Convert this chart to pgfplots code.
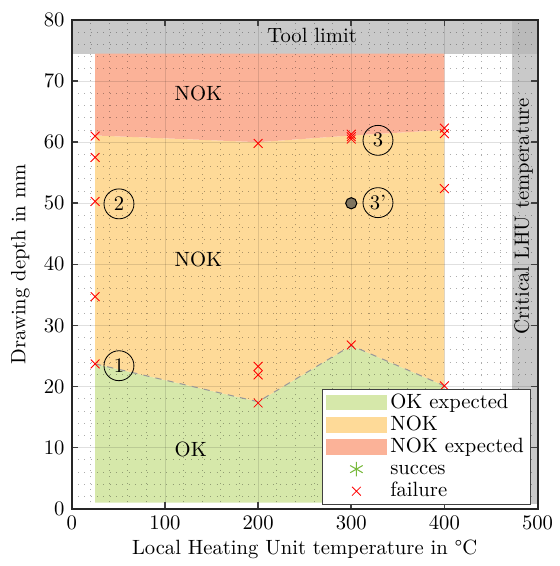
\documentclass[border=0pt]{standalone}
\usepackage{fontspec}
\usepackage{pgfplots}
\pgfplotsset{compat=1.18}
\definecolor{okgreen}{RGB}{214,232,170}
\definecolor{nokorange}{RGB}{254,218,152}
\definecolor{nokred}{RGB}{251,178,152}
\definecolor{bandgray}{RGB}{201,201,201}
\definecolor{overlapgray}{RGB}{186,186,186}
\definecolor{dotbrown}{RGB}{125,115,95}
\definecolor{succgreen}{RGB}{120,185,60}
\pgfplotsset{
  widearea/.style={legend image code/.code={\fill[##1] (0cm,-0.13cm) rectangle (1.05cm,0.13cm);}},
  widemark/.style={legend image code/.code={\draw[mark repeat=2, mark phase=2, ##1] plot coordinates {(0cm,0cm) (0.525cm,0cm) (1.05cm,0cm)};}},
}
\begin{document}
\begin{tikzpicture}
\begin{axis}[
  set layers,
  scale only axis, width=225.6pt, height=236.7pt,
  xmin=0, xmax=500, ymin=0, ymax=80,
  xtick={0,100,...,500}, ytick={0,10,...,80},
  minor x tick num=4, minor y tick num=4,
  grid=both,
  major grid style={black, opacity=0.12, line width=0.45pt},
  minor grid style={black, opacity=0.32, dash pattern=on 0.45pt off 2.6pt, line width=0.4pt},
  minor tick length=0pt,
  major tick length=3pt,
  major tick style={black!75, line width=0.8pt},
  axis line style={black!85, line width=1pt},
  xlabel={Local Heating Unit temperature in °C},
  xlabel style={yshift=1.5pt},
  ylabel={Drawing depth in mm},
  legend cell align=left,
  legend style={at={(0.985,0.008)}, anchor=south east, draw=black!75, fill=white,
    inner xsep=1.5pt, inner ysep=1pt,
    nodes={inner xsep=1.5pt, inner ysep=0.6pt, text height=7.3pt, text depth=2.2pt}},
]
% bands
\addplot[on layer=axis background, draw=none, fill=bandgray, forget plot] coordinates {(0,74.5) (500,74.5) (500,80) (0,80)} --cycle;
\addplot[on layer=axis background, draw=none, fill=bandgray, forget plot] coordinates {(473,0.8) (500,0.8) (500,80) (473,80)} --cycle;
\addplot[on layer=axis background, draw=none, fill=overlapgray, forget plot] coordinates {(473,74.5) (500,74.5) (500,80) (473,80)} --cycle;
% regions
\addplot[on layer=axis background, draw=none, fill=okgreen, forget plot] coordinates {(25,1) (25,23.7) (200,17.5) (300,26.7) (400,20.1) (400,1)} --cycle;
\addplot[on layer=axis background, draw=none, fill=nokorange, forget plot] coordinates {(25,23.7) (200,17.5) (300,26.7) (400,20.1) (400,62.0) (300,61.1) (200,60.0) (25,61.1)} --cycle;
\addplot[on layer=axis background, draw=none, fill=nokred, forget plot] coordinates {(25,61.1) (200,60.0) (300,61.1) (400,62.0) (400,74.5) (25,74.5)} --cycle;
\addplot[forget plot, gray!80, dashed, line width=0.5pt] coordinates {(25,23.7) (200,17.5) (300,26.7) (400,20.1)};
% failures
\addplot[forget plot, only marks, mark=x, mark size=3pt, red, line width=0.4pt] coordinates {
(25,61.0) (25,57.5) (25,50.3) (25,34.7) (25,23.7)
(200,59.8) (200,23.3) (200,21.9) (200,17.3)
(300,61.3) (300,60.9) (300,60.5) (300,26.8)
(400,62.3) (400,61.4) (400,52.4) (400,20.1)};
% special point
\addplot[forget plot, only marks, mark=*, mark size=2.7pt, mark options={fill=dotbrown, draw=black, line width=0.5pt}] coordinates {(300,50)};
% labels
\node[anchor=base west, inner sep=0pt] at (axis cs:110,66.9) {NOK};
\node[anchor=base west, inner sep=0pt] at (axis cs:110,39.6) {NOK};
\node[anchor=base west, inner sep=0pt] at (axis cs:110,8.6) {OK};
\node[anchor=base, inner sep=0pt] at (axis cs:258,76.3) {Tool limit};
\node[rotate=90, inner sep=0pt] at (axis cs:485,47.9) {Critical LHU temperature};
\node[circle, draw, inner sep=0.5pt, minimum size=14.5pt] at (axis cs:50.6,23.4) {1};
\node[circle, draw, inner sep=0.5pt, minimum size=14.5pt] at (axis cs:50.6,49.9) {2};
\node[circle, draw, inner sep=0.5pt, minimum size=14.5pt] at (axis cs:328.7,60.3) {3};
\node[circle, draw, inner sep=0.5pt, minimum size=14.5pt] at (axis cs:328.7,50.1) {3'};
\coordinate (ulc) at (rel axis cs:0,1);
% legend
\addlegendimage{draw=none, fill=okgreen, widearea}
\addlegendentry{OK expected}
\addlegendimage{draw=none, fill=nokorange, widearea}
\addlegendentry{NOK}
\addlegendimage{draw=none, fill=nokred, widearea}
\addlegendentry{NOK expected}
\addlegendimage{only marks, mark=asterisk, mark size=3.5pt, succgreen, line width=0.5pt, widemark}
\addlegendentry{succes}
\addlegendimage{only marks, mark=x, mark size=3pt, red, line width=0.4pt, widemark}
\addlegendentry{failure}
\end{axis}
\path (ulc) ++(-34.8pt,9.7pt);
\end{tikzpicture}
\end{document}
